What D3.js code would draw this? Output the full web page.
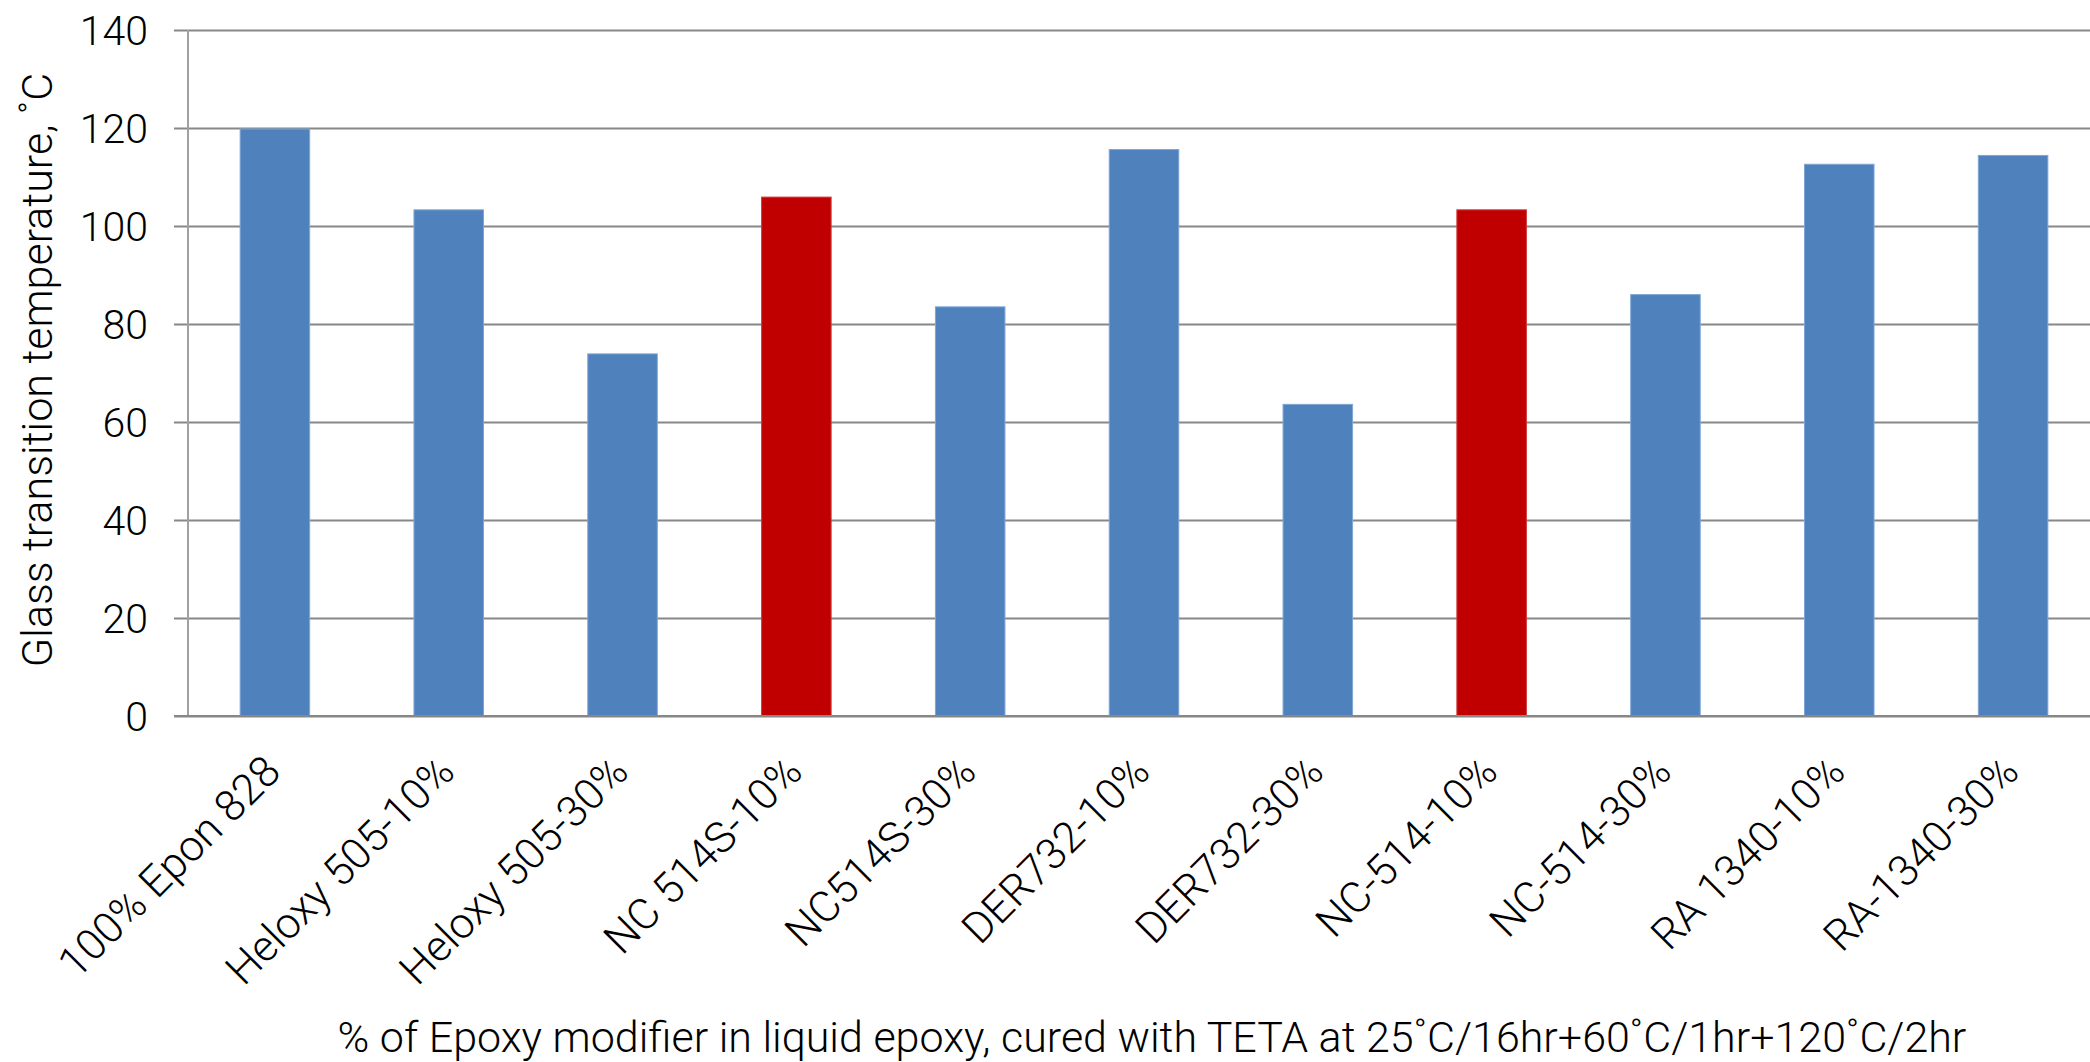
<!DOCTYPE html>
<html><head><meta charset="utf-8">
<script src="https://cdn.jsdelivr.net/npm/d3@7"></script>
<style>
html,body{margin:0;padding:0;background:#fff;}
svg{display:block;}
text{font-family:"Roboto","Liberation Sans",sans-serif;font-weight:300;fill:#000;}
</style></head>
<body>
<svg id="chart" width="2090" height="1062"></svg>
<script>
const categories = ["100% Epon 828","Heloxy 505-10%","Heloxy 505-30%","NC 514S-10%","NC514S-30%","DER732-10%","DER732-30%","NC-514-10%","NC-514-30%","RA 1340-10%","RA-1340-30%"];
const tgValues = [119.8,103.3,73.9,105.9,83.5,115.6,63.6,103.3,86.0,112.6,114.4];
const highlighted = ["NC 514S-10%","NC-514-10%"];
const yTicks = [0,20,40,60,80,100,120,140];
const yTitle = "Glass transition temperature, \u02DAC";
const xTitle = "% of Epoxy modifier in liquid epoxy, cured with TETA at 25\u02DAC/16hr+60\u02DAC/1hr+120\u02DAC/2hr";

(function(){
const svg = d3.select("#chart");
const mLeft = 188, mRight = 2100, mTop = 30, mBottom = 716;

const x = d3.scaleBand().domain(categories).range([mLeft, mRight]).paddingInner(0.6).paddingOuter(0.3);
const y = d3.scaleLinear().domain([0,140]).range([mBottom, mTop]);

// gridlines + y axis
const yAxis = d3.axisLeft(y).tickValues(yTicks).tickSize(-(mRight-mLeft)).tickPadding(0).tickFormat(d3.format("d"));
const gy = svg.append("g").attr("transform",`translate(${mLeft},0)`).call(yAxis);
gy.select(".domain").remove();
gy.selectAll(".tick line").attr("x1",-14).attr("stroke","#878787").attr("stroke-width",2);
gy.selectAll(".tick text").attr("x",-40).attr("font-size",41).attr("dy","0.36em")
  .style("font-family","Roboto, 'Liberation Sans', sans-serif").style("font-weight",300);

// y axis vertical line
svg.append("line").attr("x1",mLeft).attr("x2",mLeft).attr("y1",mTop).attr("y2",mBottom)
  .attr("stroke","#a0a0a0").attr("stroke-width",2);

// bars
svg.append("g").selectAll("rect").data(categories).join("rect")
  .attr("x",d=>x(d)).attr("width",x.bandwidth())
  .attr("y",(d,i)=>y(tgValues[i])).attr("height",(d,i)=>y(0)-y(tgValues[i]))
  .attr("fill",d=>highlighted.includes(d)?"#C00000":"#4F81BD")
  .attr("stroke",d=>highlighted.includes(d)?"#D23A3A":"#7FA6D6").attr("stroke-width",1);

// x axis baseline
svg.append("line").attr("x1",mLeft-14).attr("x2",mRight).attr("y1",mBottom).attr("y2",mBottom)
  .attr("stroke","#878787").attr("stroke-width",2);

// category labels
const xAxis = d3.axisBottom(x).tickSize(0).tickPadding(0);
const gx = svg.append("g").attr("transform",`translate(0,${mBottom})`).call(xAxis);
gx.select(".domain").remove();
gx.selectAll(".tick text")
  .attr("font-size",43).attr("text-anchor","end").attr("dy",0).attr("y",0)
  .attr("transform","translate(8,58) rotate(-45)")
  .style("font-family","Roboto, 'Liberation Sans', sans-serif").style("font-weight",300);

// titles
svg.append("text").attr("transform",`translate(52,370) rotate(-90)`).attr("text-anchor","middle")
  .attr("font-size",43).text(yTitle);
svg.append("text").attr("x",1152).attr("y",1052).attr("text-anchor","middle")
  .attr("font-size",43).text(xTitle);
})();
</script>
</body></html>
